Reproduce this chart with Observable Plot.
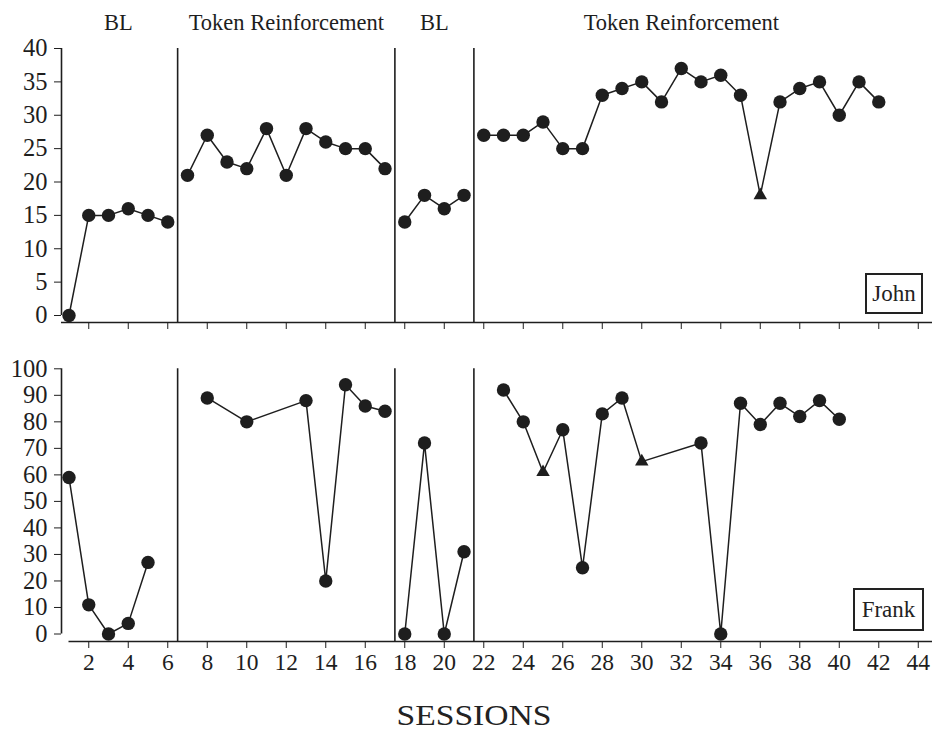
<!DOCTYPE html>
<html>
<head>
<meta charset="utf-8">
<script src="https://cdn.jsdelivr.net/npm/d3@7"></script>
<script src="https://cdn.jsdelivr.net/npm/@observablehq/plot@0.6"></script>
<style>
  html, body { margin: 0; padding: 0; background: #fff; }
  #chart { position: relative; width: 932px; height: 734px; font-family: "Liberation Serif", "DejaVu Serif", serif; color: #222; }
  #chart svg { position: absolute; left: 0; display: block; }
  .name { position: absolute; box-sizing: border-box; border: 2px solid #222; font-size: 23px; line-height: 1; display: flex; align-items: center; justify-content: center; background: #fff; }
  .xlabel { position: absolute; left: 474px; top: 700px; font-size: 30px; line-height: 1; white-space: nowrap; transform: translateX(-50%) scaleX(1.12); }
</style>
</head>
<body>
<div id="chart"></div>
<script>
// Experimental phases (first and last session of each)
const phaseLabels = ["BL", "Token Reinforcement", "BL", "Token Reinforcement"];
const phaseStarts = [1, 7, 18, 22];
const phaseEnds = [6, 17, 21, 42];

// John: words per session
const johnSessions = [1, 2, 3, 4, 5, 6, 7, 8, 9, 10, 11, 12, 13, 14, 15, 16, 17, 18, 19, 20, 21,
  22, 23, 24, 25, 26, 27, 28, 29, 30, 31, 32, 33, 34, 35, 36, 37, 38, 39, 40, 41, 42];
const johnValues = [0, 15, 15, 16, 15, 14, 21, 27, 23, 22, 28, 21, 28, 26, 25, 25, 22, 14, 18, 16, 18,
  27, 27, 27, 29, 25, 25, 33, 34, 35, 32, 37, 35, 36, 33, 18, 32, 34, 35, 30, 35, 32];
const johnTriangles = [36];

// Frank: percentage per session
const frankSessions = [1, 2, 3, 4, 5, 8, 10, 13, 14, 15, 16, 17, 18, 19, 20, 21,
  23, 24, 25, 26, 27, 28, 29, 30, 33, 34, 35, 36, 37, 38, 39, 40];
const frankValues = [59, 11, 0, 4, 27, 89, 80, 88, 20, 94, 86, 84, 0, 72, 0, 31,
  92, 80, 61, 77, 25, 83, 89, 65, 72, 0, 87, 79, 87, 82, 88, 81];
const frankTriangles = [25, 30];

const xTicks = [2, 4, 6, 8, 10, 12, 14, 16, 18, 20, 22, 24, 26, 28, 30, 32, 34, 36, 38, 40, 42, 44];
const johnTicks = [0, 5, 10, 15, 20, 25, 30, 35, 40];
const frankTicks = [0, 10, 20, 30, 40, 50, 60, 70, 80, 90, 100];

const ink = "#1e1e1e";
const xDomain = [0.62, 44.72];
const phaseChanges = phaseEnds.slice(0, -1).map((e, i) => (e + phaseStarts[i + 1]) / 2);
const phaseOf = s => phaseStarts.filter(p => p <= s).length - 1;

function rows(sessions, values, triangles) {
  return sessions.map((s, i) => ({session: s, value: values[i], phase: phaseOf(s), tri: triangles.includes(s)}));
}

function panel({data, yMax, yTicks, height, marginTop, marginBottom, insetBottom, xLabels, xStart, withPhaseLabels}) {
  const marks = [
    // y axis line and x axis baseline
    Plot.ruleX([xDomain[0]], {y1: 0, y2: yMax, stroke: ink, strokeWidth: 1.6}),
    Plot.ruleY([0], {x1: xStart, x2: xDomain[1], dy: insetBottom, stroke: ink, strokeWidth: 1.6}),
    // phase change lines
    Plot.ruleX(phaseChanges, {stroke: ink, strokeWidth: 1.6}),
    Plot.axisY(yTicks, {tickSize: 7, tickPadding: 7, label: null, fontSize: 24.5, stroke: ink, fill: ink}),
    Plot.axisX(xTicks, {tickSize: 7, tickPadding: 5, label: null, fontSize: 23.5, stroke: ink, fill: ink,
      tickFormat: xLabels ? (d => String(d)) : (() => "")}),
    Plot.line(data, {x: "session", y: "value", z: "phase", stroke: ink, strokeWidth: 1.5}),
    Plot.dot(data.filter(d => !d.tri), {x: "session", y: "value", r: 6.7, fill: ink, stroke: "none"}),
    Plot.dot(data.filter(d => d.tri), {x: "session", y: "value", r: 5, symbol: "triangle", fill: ink, stroke: "none"})
  ];
  if (withPhaseLabels) {
    const labels = phaseLabels.map((t, i) => ({text: t, x: (phaseStarts[i] + phaseEnds[i]) / 2}));
    marks.push(Plot.text(labels, {x: "x", text: "text", frameAnchor: "top", dy: -26, fontSize: 22.5, fill: ink, lineAnchor: "middle"}));
  }
  return Plot.plot({
    width: 932,
    height,
    marginLeft: 61,
    marginRight: 0,
    marginTop,
    marginBottom,
    style: {fontFamily: "'Liberation Serif', 'DejaVu Serif', serif", color: ink, background: "transparent", overflow: "visible"},
    x: {domain: xDomain},
    y: {domain: [0, yMax], insetBottom},
    marks
  });
}

const chartEl = document.getElementById("chart");

const johnPanel = panel({
  data: rows(johnSessions, johnValues, johnTriangles),
  yMax: 40, yTicks: johnTicks, height: 340, marginTop: 48, marginBottom: 18, insetBottom: 7,
  xLabels: false, xStart: xDomain[0], withPhaseLabels: true
});
johnPanel.style.top = "0px";
chartEl.appendChild(johnPanel);

const frankPanel = panel({
  data: rows(frankSessions, frankValues, frankTriangles),
  yMax: 100, yTicks: frankTicks, height: 345, marginTop: 28.3, marginBottom: 44, insetBottom: 7.5,
  xLabels: true, xStart: 1, withPhaseLabels: false
});
frankPanel.style.top = "340px";
chartEl.appendChild(frankPanel);

// participant name boxes
const johnBox = document.createElement("div");
johnBox.className = "name";
johnBox.textContent = "John";
Object.assign(johnBox.style, {left: "865px", top: "273px", width: "58px", height: "41px"});
chartEl.appendChild(johnBox);

const frankBox = document.createElement("div");
frankBox.className = "name";
frankBox.textContent = "Frank";
Object.assign(frankBox.style, {left: "853px", top: "588px", width: "71px", height: "43px"});
chartEl.appendChild(frankBox);

const sessionsLabel = document.createElement("div");
sessionsLabel.className = "xlabel";
sessionsLabel.textContent = "SESSIONS";
chartEl.appendChild(sessionsLabel);
</script>
</body>
</html>
